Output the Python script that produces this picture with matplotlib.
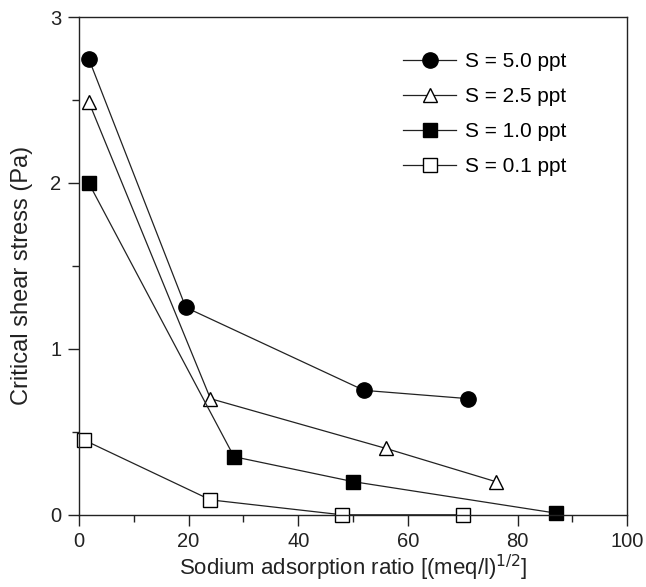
import matplotlib.pyplot as plt
from matplotlib.ticker import MultipleLocator

plt.rcParams['font.family'] = ['Liberation Sans', 'DejaVu Sans']

# sodium adsorption ratio vs critical shear stress, one series per salinity
sar_50 = [1.8, 19.5, 52, 71]
tau_50 = [2.75, 1.25, 0.75, 0.70]
sar_25 = [1.8, 24, 56, 76]
tau_25 = [2.49, 0.70, 0.40, 0.20]
sar_10 = [1.8, 28.3, 50, 87]
tau_10 = [2.0, 0.35, 0.20, 0.01]
sar_01 = [1.0, 24, 48, 70]
tau_01 = [0.45, 0.09, 0.0, 0.0]

labels = ['S = 5.0 ppt', 'S = 2.5 ppt', 'S = 1.0 ppt', 'S = 0.1 ppt']

fig = plt.figure(figsize=(6.46, 5.87), dpi=100)
ax = fig.add_axes([0.122, 0.123, 0.849, 0.848])

line_kw = dict(color='#222222', lw=0.9, markeredgecolor='black', markeredgewidth=1.0, clip_on=False)
ax.plot(sar_50, tau_50, marker='o', ms=11, mfc='black', label=labels[0], **line_kw)
ax.plot(sar_25, tau_25, marker='^', ms=9.5, mfc='white', label=labels[1], **line_kw)
ax.plot(sar_10, tau_10, marker='s', ms=10, mfc='black', label=labels[2], **line_kw)
ax.plot(sar_01, tau_01, marker='s', ms=10, mfc='white', label=labels[3], **line_kw)

ax.set_xlim(0, 100)
ax.set_ylim(0, 3)
ax.xaxis.set_major_locator(MultipleLocator(20))
ax.xaxis.set_minor_locator(MultipleLocator(10))
ax.yaxis.set_major_locator(MultipleLocator(1))
ax.yaxis.set_minor_locator(MultipleLocator(0.5))
ax.tick_params(which='both', direction='out', width=1, labelsize=14.5, colors='#222222')
ax.tick_params(which='major', length=8, pad=4.5)
ax.tick_params(which='minor', length=5)
for s in ax.spines.values():
    s.set_linewidth(1)
    s.set_color('#222222')

ax.set_xlabel('Sodium adsorption ratio [(meq/l)$^{1/2}$]', fontsize=16, color='#222222')
ax.set_ylabel('Critical shear stress (Pa)', fontsize=17, color='#222222')
ax.xaxis.set_label_coords(0.5, -0.076)
ax.yaxis.set_label_coords(-0.083, 0.48)

ax.legend(loc='upper left', frameon=False, fontsize=15, handlelength=2.55,
          handletextpad=0.45, labelspacing=0.77, borderpad=0, borderaxespad=0,
          bbox_to_anchor=(0.591, 0.93))

fig.savefig('out.png', dpi=100, facecolor='white')
